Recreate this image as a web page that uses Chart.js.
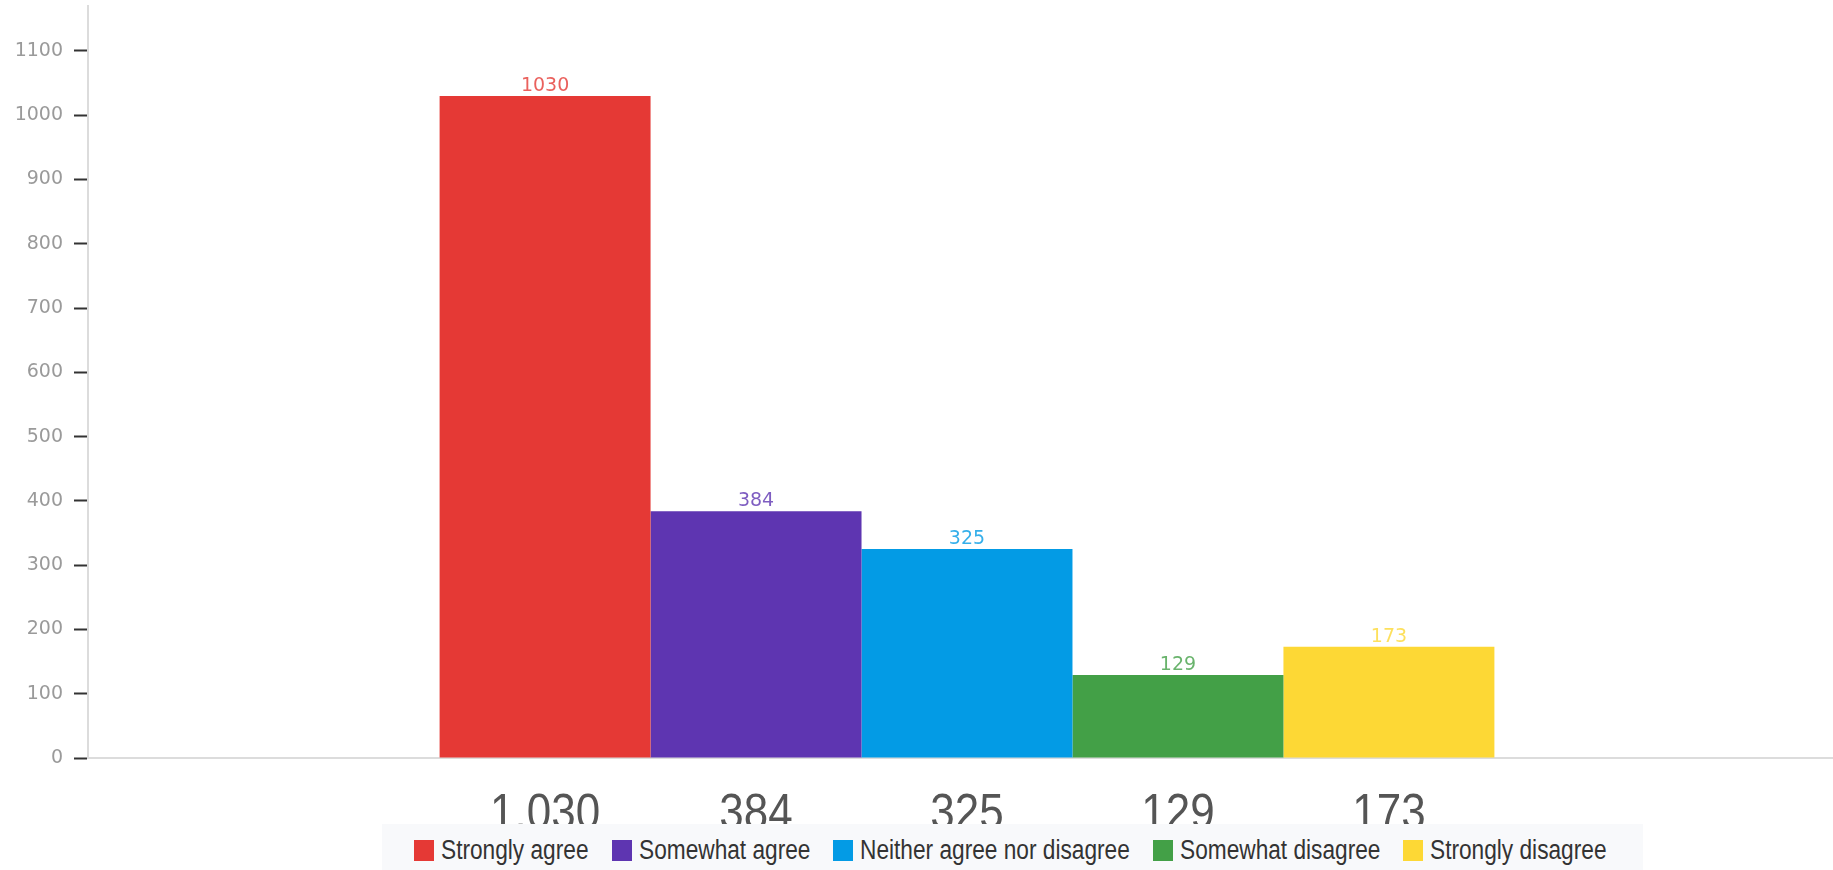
<!DOCTYPE html>
<html>
<head>
<meta charset="utf-8">
<script src="https://cdn.jsdelivr.net/npm/chart.js@4.4.0/dist/chart.umd.min.js"></script>
<style>
	html, body { margin: 0; padding: 0; background: #fff; overflow: hidden; }
	#wrap { position: relative; width: 1846px; height: 870px; }
	#legend-container { position: absolute; left: 382px; top: 824px; width: 1261px; height: 46px; background: #f8f9fb; overflow: hidden; }
</style>
</head>
<body>
<div id="wrap">
	<canvas id="chart" width="1846" height="870"></canvas>
	<div id="legend-container"></div>
</div>
<script>
const categories = ['Strongly agree', 'Somewhat agree', 'Neither agree nor disagree', 'Somewhat disagree', 'Strongly disagree'];
const counts = [1030, 384, 325, 129, 173];
const colors = ['#E53935', '#5E35B1', '#039BE5', '#43A047', '#FDD835'];
const yMax = 1170;
const yStep = 100;

const NARROW = 0.84;

const buildLegend = (id) => {
	const legendContainer = document.getElementById(id);
	const ul = document.createElement('ul');
	ul.style.display = 'flex';
	ul.style.flexDirection = 'row';
	ul.style.alignItems = 'center';
	ul.style.height = '100%';
	ul.style.margin = 0;
	ul.style.padding = '0 0 0 32px';
	ul.style.listStyle = 'none';
	legendContainer.appendChild(ul);

	categories.forEach((label, i) => {
		const li = document.createElement('li');
		li.style.display = 'flex';
		li.style.alignItems = 'center';
		li.style.marginRight = '23px';
		li.style.marginTop = '6px';
		li.style.whiteSpace = 'nowrap';

		const box = document.createElement('span');
		box.style.display = 'inline-block';
		box.style.width = '20px';
		box.style.height = '21px';
		box.style.background = colors[i];
		box.style.marginRight = '7px';

		// Text, squeezed sideways to look like a narrow face
		const holder = document.createElement('span');
		holder.style.display = 'inline-block';
		const text = document.createElement('span');
		text.style.display = 'inline-block';
		text.style.color = '#333';
		text.style.font = '27px "Liberation Sans", Arial, sans-serif';
		text.style.lineHeight = '27px';
		text.style.transformOrigin = 'left center';
		text.style.transform = `scaleX(${NARROW})`;
		text.appendChild(document.createTextNode(label));
		holder.appendChild(text);

		li.appendChild(box);
		li.appendChild(holder);
		ul.appendChild(li);

		holder.style.width = (text.getBoundingClientRect().width) + 'px';
	});
};

const fmt = (v) => String(v).replace(/\B(?=(\d{3})+(?!\d))/g, '.');

const barLabels = {
	id: 'barLabels',
	afterDatasetsDraw(chart) {
		const ctx = chart.ctx;
		chart.data.datasets.forEach((ds, i) => {
			const bar = chart.getDatasetMeta(i).data[0];
			const v = ds.data[0];
			ctx.save();
			// small value label above the bar
			ctx.globalAlpha = 0.8;
			ctx.fillStyle = ds.backgroundColor;
			ctx.font = '19px "DejaVu Sans", sans-serif';
			ctx.textAlign = 'center';
			ctx.textBaseline = 'alphabetic';
			ctx.fillText(String(v), bar.x, bar.y - 5);
			// big number under the axis
			ctx.globalAlpha = 1;
			ctx.fillStyle = '#555';
			ctx.font = '50px "Liberation Sans", Arial, sans-serif';
			ctx.translate(bar.x, chart.chartArea.bottom + 71);
			ctx.scale(0.88, 1);
			ctx.fillText(fmt(v), 0, 0);
			ctx.restore();
		});
	}
};

const data = {
	labels: [''],
	datasets: categories.map((label, i) => ({
		label,
		data: [counts[i]],
		backgroundColor: colors[i],
		borderWidth: 0,
		categoryPercentage: 0.6,
		barPercentage: 1.0,
	}))
};

const config = {
	type: 'bar',
	data: data,
	options: {
		responsive: false,
		animation: false,
		layout: {
			padding: { top: 6, bottom: 112, right: 0, left: 0 }
		},
		plugins: {
			legend: { display: false },
			title: { display: false },
			tooltip: { enabled: false }
		},
		scales: {
			x: {
				ticks: { display: false },
				grid: { display: false, drawTicks: false },
				border: { display: true, color: '#dcdcdc', width: 2 }
			},
			y: {
				min: 0,
				max: yMax,
				afterBuildTicks(scale) {
					scale.ticks = scale.ticks.filter(t => t.value % yStep === 0);
				},
				afterFit(scale) {
					scale.width = 88;
					scale.paddingTop = 0;
				},
				ticks: {
					stepSize: yStep,
					color: '#9a9a9a',
					padding: 11,
					font: { family: '"DejaVu Sans", sans-serif', size: 19 },
					callback: (value) => String(value)
				},
				grid: {
					drawOnChartArea: false,
					drawTicks: true,
					tickLength: 14,
					tickColor: '#333',
					tickWidth: 2
				},
				border: { display: true, color: '#dcdcdc', width: 2 }
			}
		}
	},
	plugins: [barLabels]
};

buildLegend('legend-container');
new Chart(document.getElementById('chart').getContext('2d'), config);
</script>
</body>
</html>
